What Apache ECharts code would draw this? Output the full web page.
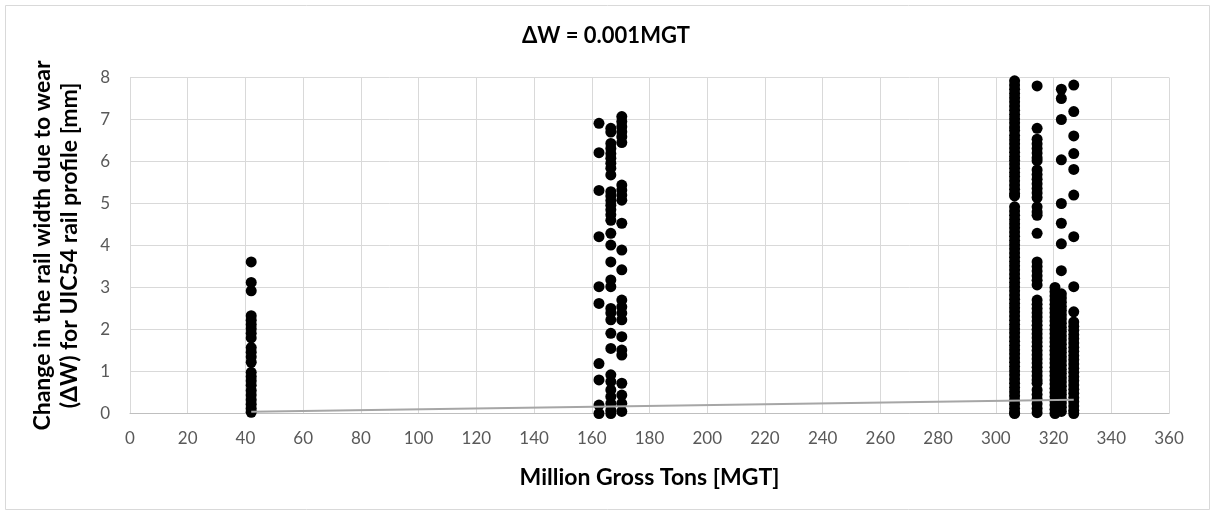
<!DOCTYPE html>
<html>
<head>
<meta charset="utf-8">
<script src="https://cdn.jsdelivr.net/npm/echarts@6/dist/echarts.min.js"></script>
<style>html,body{margin:0;padding:0;background:#fff}#c{width:1212px;height:517px}</style>
</head>
<body>
<div id="c"></div>
<script>
// ---- data ----
const titleText = 'ΔW = 0.001MGT';
const xName = 'Million Gross Tons [MGT]';
const yName = 'Change in the rail width due to wear\n(ΔW) for UIC54 rail profile [mm]';
const xTicks = [0, 360, 20];
const yTicks = [0, 8, 1];

// MGT positions of the measurement columns
const colX = [42, 162.5, 166.6, 170.4, 306.5, 314.3, 320.5, 322.7, 327];

const col42 = [3.61, 3.12, 2.92, 2.33, 2.22, 2.12, 2.02, 1.91, 1.80, 1.57, 1.46, 1.35, 1.22, 0.98, 0.88, 0.78, 0.67, 0.55, 0.44, 0.33, 0.22, 0.12, 0.03];
const col162 = [6.91, 6.21, 5.31, 4.21, 3.02, 2.62, 1.19, 0.80, 0.20, 0.0];
const col166 = [6.79, 6.70, 6.43, 6.31, 6.19, 6.08, 5.96, 5.84, 5.68, 5.28, 5.18, 5.07, 4.96, 4.85, 4.73, 4.60, 4.29, 4.01, 3.61, 3.18, 3.02, 2.50, 2.39, 2.23, 1.91, 1.55, 0.92, 0.76, 0.56, 0.40, 0.24, 0.08, 0.0];
const col170 = [7.07, 6.95, 6.83, 6.71, 6.59, 6.45, 5.44, 5.32, 5.20, 5.08, 4.53, 3.89, 3.42, 2.70, 2.54, 2.39, 2.23, 1.83, 1.51, 1.39, 0.72, 0.44, 0.24, 0.05];
const col306 = [7.92, 7.82, 7.72, 7.62, 7.52, 7.42, 7.32, 7.22, 7.12, 7.02, 6.92, 6.82, 6.74,
  6.62, 6.52, 6.42, 6.32, 6.22, 6.12, 6.03,
  5.94, 5.84, 5.74, 5.64, 5.54, 5.44, 5.34, 5.24, 5.18,
  4.92, 4.82, 4.72, 4.62, 4.52, 4.42, 4.32, 4.22, 4.12, 4.02, 3.92, 3.82, 3.72, 3.62, 3.52, 3.42, 3.32, 3.22, 3.12, 3.02,
  2.92, 2.82, 2.72, 2.62, 2.52, 2.42, 2.32, 2.22, 2.12, 2.02, 1.92, 1.82, 1.72, 1.62, 1.52, 1.42, 1.32, 1.22, 1.12, 1.02,
  0.92, 0.82, 0.72, 0.62, 0.52, 0.42, 0.32, 0.22, 0.12, 0.02, 0.0];
const col314 = [7.80, 6.79, 6.53, 6.42, 6.31, 6.20, 6.09, 6.02, 5.80, 5.69, 5.58, 5.47, 5.36, 5.25, 5.14, 4.92, 4.80, 4.72, 4.29,
  3.61, 3.50, 3.39, 3.28, 3.17, 3.06,
  2.70, 2.60, 2.50, 2.40, 2.30, 2.20, 2.10, 2.00, 1.90, 1.80, 1.70, 1.60, 1.50, 1.40, 1.30, 1.20, 1.10, 1.00, 0.90, 0.80, 0.72,
  0.56, 0.45, 0.34, 0.23, 0.12, 0.02];
const col320 = [3.00, 2.90, 2.80, 2.70, 2.60, 2.50, 2.40, 2.30, 2.20, 2.10, 2.00, 1.90, 1.80, 1.70, 1.60, 1.50, 1.40, 1.30, 1.20, 1.10, 1.00,
  0.90, 0.80, 0.70, 0.60, 0.50, 0.40, 0.30, 0.20, 0.10, 0.0];
const col322 = [7.72, 7.50, 7.00, 6.04, 5.00, 4.53, 4.04, 3.40,
  2.85, 2.75, 2.65, 2.55, 2.45, 2.35, 2.25, 2.15, 2.05, 1.95, 1.85, 1.75, 1.65, 1.55, 1.45, 1.35, 1.25, 1.15, 1.05,
  0.95, 0.85, 0.75, 0.65, 0.55, 0.45, 0.35, 0.25, 0.15, 0.05];
const col327 = [7.82, 7.19, 6.61, 6.19, 5.81, 5.20, 4.21, 3.02, 2.42,
  2.18, 2.08, 1.98, 1.88, 1.78, 1.68, 1.58, 1.48, 1.38, 1.28, 1.18, 1.08, 0.98, 0.88, 0.78, 0.68, 0.58, 0.48, 0.38, 0.28, 0.18, 0.08, 0.0];
const columns = [col42, col162, col166, col170, col306, col314, col320, col322, col327];

// linear trend line ΔW = 0.001·MGT, endpoints
const trendX = [42, 327];
const trendY = [0.042, 0.327];

// ---- build ----
const pts = [];
columns.forEach((arr, i) => arr.forEach(v => pts.push([colX[i], v])));
const trend = trendX.map((x, i) => [x, trendY[i]]);

const FONT = 'Lato';
const chart = echarts.init(document.getElementById('c'), null, {renderer: 'canvas'});
chart.setOption({
  animation: false,
  backgroundColor: '#ffffff',
  textStyle: {fontFamily: FONT},
  title: {
    text: titleText, left: 'center', top: 20,
    textStyle: {fontFamily: FONT, fontSize: 22, fontWeight: 'bold', color: '#000'}
  },
  graphic: [{
    type: 'rect', left: 3, top: 3, z: -1,
    shape: {width: 1204, height: 504},
    style: {fill: 'none', stroke: '#d9d9d9', lineWidth: 1}
  }],
  grid: {left: 130, right: 43, top: 77.5, bottom: 103.5, containLabel: false},
  xAxis: {
    type: 'value', min: xTicks[0], max: xTicks[1], interval: xTicks[2],
    name: xName, nameLocation: 'middle', nameGap: 53,
    nameTextStyle: {fontFamily: FONT, fontSize: 23, fontWeight: 'bold', color: '#000'},
    axisLine: {show: true, lineStyle: {color: '#bfbfbf', width: 1}},
    axisTick: {show: false},
    axisLabel: {color: '#595959', fontSize: 17, margin: 17, fontFamily: FONT},
    splitLine: {show: true, lineStyle: {color: '#d9d9d9', width: 1}}
  },
  yAxis: {
    type: 'value', min: yTicks[0], max: yTicks[1], interval: yTicks[2],
    name: yName, nameLocation: 'middle', nameGap: 47, nameRotate: 90,
    nameTextStyle: {fontFamily: FONT, fontSize: 23, fontWeight: 'bold', color: '#000', lineHeight: 27, align: 'center'},
    axisLine: {show: false},
    axisTick: {show: false},
    axisLabel: {color: '#595959', fontSize: 17, margin: 20, fontFamily: FONT},
    splitLine: {show: true, lineStyle: {color: '#d9d9d9', width: 1}}
  },
  series: [{
    type: 'scatter', data: pts, symbol: 'circle', symbolSize: 11,
    itemStyle: {color: '#000000', opacity: 1}, z: 2
  }, {
    type: 'line', data: trend, symbol: 'none', z: 3,
    lineStyle: {color: '#a6a6a6', width: 2}
  }]
});
</script>
</body>
</html>
